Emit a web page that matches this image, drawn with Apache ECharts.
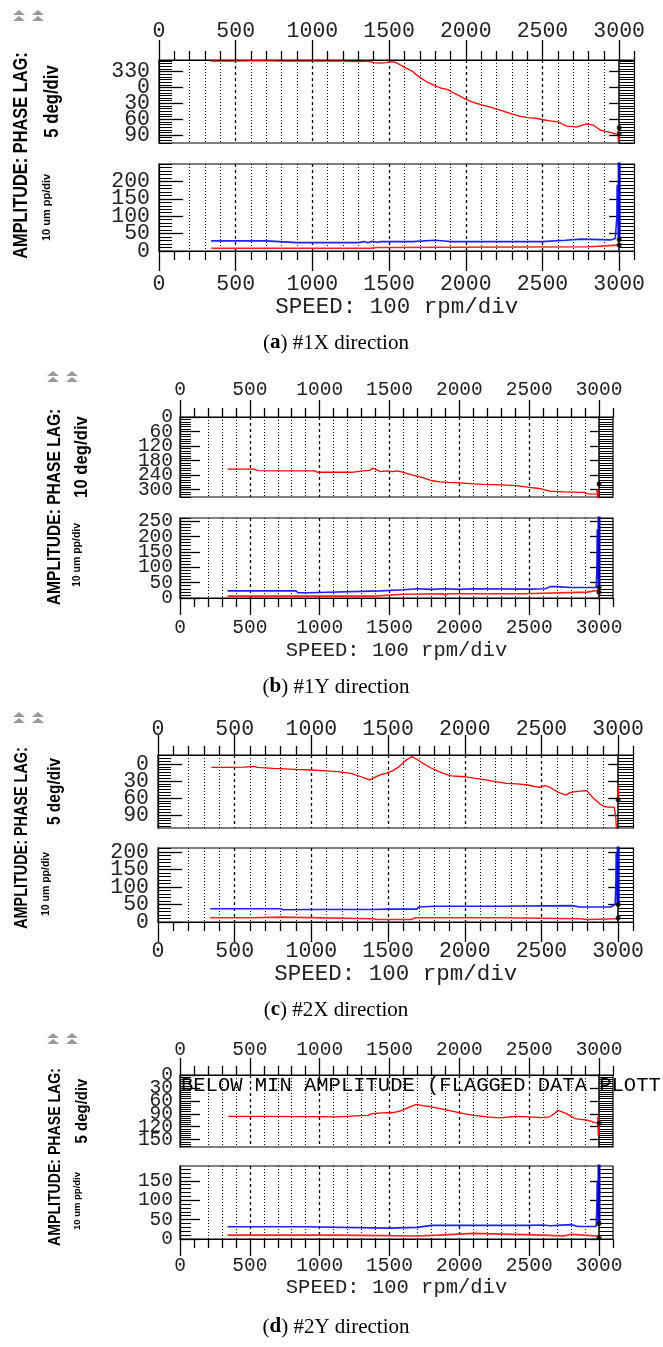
<!DOCTYPE html>
<html><head><meta charset="utf-8">
<script src="https://cdn.jsdelivr.net/npm/echarts@6/dist/echarts.min.js"></script>
<style>html,body{margin:0;padding:0;background:#fff}#c{width:663px;height:1347px}</style>
</head><body><div id="c"></div><script>
// ================= DATA =================
const speedLabels = [0, 500, 1000, 1500, 2000, 2500, 3000];
const speedMinorStep = 100;
const captions = ['a', 'b', 'c', 'd'];
const captionTexts = [' #1X direction', ' #1Y direction', ' #2X direction', ' #2Y direction'];
const phaseUnits = ['5 deg/div', '10 deg/div', '5 deg/div', '5 deg/div'];
const ampUnit = '10 um pp/div';
const speedName = 'SPEED: 100 rpm/div';
const flagText = 'BELOW MIN AMPLITUDE (FLAGGED DATA PLOTT';

// phase tick labels (negative values shown as +360)
const phaseLabelsA = [-30, 0, 30, 60, 90];
const phaseLabelsB = [0, 60, 120, 180, 240, 300];
const phaseLabelsC = [0, 30, 60, 90];
const phaseLabelsD = [0, 30, 60, 90, 120, 150];
const ampLabelsA = [0, 50, 100, 150, 200];
const ampLabelsB = [0, 50, 100, 150, 200, 250];
const ampLabelsC = [0, 50, 100, 150, 200];
const ampLabelsD = [0, 50, 100, 150];

// ---- (a) #1X ----
const phaseA = [[340,-50],[500,-50],[650,-51],[800,-50],[1000,-50],[1200,-50],[1300,-49],[1360,-50],[1400,-47],[1443,-46],[1480,-47],[1525,-49],[1560,-45],[1608,-37],[1650,-31],[1691,-21],[1750,-10],[1801,-3],[1840,1],[1884,4],[1918,10],[1960,16],[2005,23],[2050,28],[2103,33],[2150,36],[2201,41],[2250,45],[2298,50],[2350,54],[2407,57],[2450,58],[2504,61],[2550,63],[2602,65],[2630,69],[2657,73],[2700,74],[2722,75],[2760,71],[2787,69],[2830,71],[2874,80],[2910,83],[2939,85],[2983,88]];
const phaseSpikeA = [[2995,82],[2997,101]];
const phaseDotsA = [[3000,76],[3000,88]];
const blueA = [[340,29],[500,29],[698,29],[710,24],[900,24],[1100,24],[1300,24],[1340,27],[1360,24],[1390,28],[1420,25],[1450,27],[1650,27],[1660,31],[1800,31],[1810,27],[1880,28],[1900,27],[2500,27],[2510,31],[2650,31],[2660,34],[2750,34],[2760,31],[2950,32],[2975,36],[2985,100],[2987,190],[2990,185],[2993,90],[2996,40]];
const redA = [[340,8],[1380,8],[1390,12],[1420,10],[1490,10],[1500,12],[2800,12],[2810,17],[2995,17]];
const blueSpikeA = [[3000,33],[3000,300]];
const ampDotsA = [[3000,33],[3000,17]];

// ---- (b) #1Y ----
const phaseB = [[340,215],[528,215],[560,221],[700,222],[967,222],[982,228],[1100,228],[1224,228],[1315,222],[1360,220],[1378,211],[1400,216],[1436,225],[1480,222],[1520,225],[1557,222],[1618,232],[1680,242],[1739,250],[1800,262],[1860,268],[1920,270],[2000,272],[2102,276],[2180,278],[2253,279],[2330,281],[2405,283],[2500,290],[2586,296],[2647,306],[2750,309],[2889,311],[2919,317],[2979,318]];
const phaseSpikeB = [[2988,300],[2992,335]];
const phaseDotsB = [[3000,276]];
const blueB = [[340,23],[830,23],[845,17],[923,17],[930,23],[1436,23],[1450,27],[1600,27],[1610,29],[1700,30],[1800,28],[1900,30],[2000,28],[2100,30],[2500,29],[2617,30],[2625,35],[2650,37],[2700,37],[2800,34],[2980,34],[2985,105],[2987,223],[2990,200],[2993,60]];
const redB = [[340,6],[1390,6],[1400,12],[1600,12],[1610,14],[1880,14],[1900,10],[1920,14],[2460,14],[2470,19],[2915,19],[2920,25],[2995,25],[2998,10]];
const blueSpikeB = [[3000,35],[3000,300]];
const ampDotsB = [[3000,35],[3000,19]];

// ---- (c) #2X ----
const phaseC = [[348,6],[450,6],[560,5.5],[623,4],[650,6],[750,7.5],[898,9.4],[1000,10.5],[1100,12],[1173,13.5],[1256,16.5],[1320,22],[1379,28],[1410,24],[1448,19],[1490,16],[1530,12],[1570,5],[1613,-6],[1653,-13],[1690,-8],[1723,-2],[1780,7],[1833,13.5],[1875,18],[1915,21],[1998,22.4],[2060,25],[2136,28],[2200,31],[2273,34],[2340,35],[2411,37],[2460,40],[2493,41],[2520,38],[2548,40],[2580,45],[2603,49],[2630,52],[2659,55],[2690,50],[2714,49],[2750,48],[2796,47],[2837,60],[2851,63],[2880,70],[2907,75],[2940,76],[2975,76],[2985,95],[2989,118]];
const phaseSpikeC = [[3000,40],[3000,63]];
const phaseDotsC = [[3000,63]];
const blueC = [[340,38],[800,38],[815,35],[1000,36],[1400,36],[1500,37],[1690,37],[1700,43],[1800,45],[2200,45],[2210,47],[2700,47],[2750,43],[2950,43],[2980,50],[2985,110],[2987,200],[2990,150],[2995,50]];
const redC = [[340,12],[623,12],[630,14],[800,14],[810,9.5],[1400,9.5],[1420,7],[1650,7],[1680,12],[2250,12],[2260,9.5],[2750,9.5],[2760,7],[2800,7],[2810,9.5],[2995,9.5]];
const blueSpikeC = [[3000,50],[3000,300]];
const ampDotsC = [[3000,50],[3000,12]];

// ---- (d) #2Y ----
const phaseD = [[346,96],[600,96],[900,96.5],[1133,97],[1250,95],[1345,93.5],[1375,89.6],[1450,88],[1527,87],[1580,83],[1618,78],[1660,72],[1693,68],[1740,71],[1799,74],[1880,79],[1981,86],[2040,90],[2102,93.5],[2200,97],[2284,99.6],[2340,98],[2405,96],[2500,97],[2586,98.8],[2647,97],[2680,90],[2707,82],[2740,86],[2768,89.6],[2800,96],[2828,101],[2870,103],[2919,105],[2950,108],[2980,111]];
const phaseSpikeD = [[2995,97],[2998,140]];
const phaseDotsD = [[3000,112]];
const blueD = [[340,31.6],[891,31.6],[900,28],[1490,28],[1500,30],[1700,30],[1708,33],[1800,35],[2500,35],[2600,36],[2650,34],[2700,35],[2800,37],[2850,32],[2980,32],[2985,96],[2987,150],[2990,140],[2995,45]];
const redD = [[340,10],[1117,10],[1120,7.7],[1700,7.7],[1710,10],[1850,10],[1860,14.5],[2100,14.5],[2110,10],[2600,10],[2610,7.7],[2750,7.7],[2760,12],[2800,12],[2810,7.7],[2995,7.7]];
const blueSpikeD = [[3000,40],[3000,300]];
const ampDotsD = [[3000,40],[3000,4.4]];

// ================= LAYOUT / STYLE =================
const MONO = "'Liberation Mono','DejaVu Sans Mono','Courier New',monospace";
const SANS = "'Liberation Sans',Arial,sans-serif";
const SERIF = "'Liberation Serif','Times New Roman',serif";

const panels = [
  { phaseLabels: phaseLabelsA, phaseMin: -52, phaseMax: 105, phaseStep: 5, ampLabels: ampLabelsA, ampMax: 250, ampStep: 10,
    phase: phaseA, phaseSpike: phaseSpikeA, phaseDots: phaseDotsA, blue: blueA, red: redA, blueSpike: blueSpikeA, ampDots: ampDotsA,
    L: { left: 159, width: 475.5, pTop: 60, pH: 83, aTop: 164, aH: 87, font: 21.5, nameFont: 22.5, xMarginTop: 18, xMarginBot: 22, yMargin: 9, nameGap: 42,
         majorLen: 20, minorLen: 9, yMajorLen: 24, yMinorLen: 13, rMajorLen: 10,
         capY: 343, mainText: [21.7, 155.5, 19.5, 0.84], unitText: [53, 101.5, 19.5, 0.86], ampText: [47, 207.5, 11, 1], icons: [13, 10] } },
  { phaseLabels: phaseLabelsB, phaseMin: 0, phaseMax: 330, phaseStep: 10, ampLabels: ampLabelsB, ampMax: 260, ampStep: 10,
    phase: phaseB, phaseSpike: phaseSpikeB, phaseDots: phaseDotsB, blue: blueB, red: redB, blueSpike: blueSpikeB, ampDots: ampDotsB,
    L: { left: 180, width: 433, pTop: 417, pH: 80, aTop: 518, aH: 80, font: 19.5, nameFont: 20.5, xMarginTop: 17, xMarginBot: 20, yMargin: 7, nameGap: 42,
         majorLen: 17, minorLen: 9, yMajorLen: 20, yMinorLen: 11, rMajorLen: 9,
         capY: 687, mainText: [55, 507, 19, 0.82], unitText: [82, 457, 19, 0.88], ampText: [77.5, 555, 10.5, 1], icons: [47, 371] } },
  { phaseLabels: phaseLabelsC, phaseMin: -16, phaseMax: 113, phaseStep: 5, ampLabels: ampLabelsC, ampMax: 212, ampStep: 10,
    phase: phaseC, phaseSpike: phaseSpikeC, phaseDots: phaseDotsC, blue: blueC, red: redC, blueSpike: blueSpikeC, ampDots: ampDotsC,
    L: { left: 158, width: 475.5, pTop: 755, pH: 73, aTop: 848, aH: 74, font: 21.5, nameFont: 22.5, xMarginTop: 15, xMarginBot: 18, yMargin: 9, nameGap: 34,
         majorLen: 20, minorLen: 9, yMajorLen: 24, yMinorLen: 13, rMajorLen: 10,
         capY: 1010, mainText: [21.7, 838, 18, 0.8], unitText: [55, 791.5, 18, 0.86], ampText: [46, 884, 10.5, 1], icons: [13, 712] } },
  { phaseLabels: phaseLabelsD, phaseMin: 0, phaseMax: 167, phaseStep: 5, ampLabels: ampLabelsD, ampMax: 188, ampStep: 10,
    phase: phaseD, phaseSpike: phaseSpikeD, phaseDots: phaseDotsD, blue: blueD, red: redD, blueSpike: blueSpikeD, ampDots: ampDotsD,
    L: { left: 180, width: 433, pTop: 1075, pH: 72, aTop: 1166, aH: 73, font: 19.5, nameFont: 20.5, xMarginTop: 15, xMarginBot: 17, yMargin: 7, nameGap: 34,
         majorLen: 17, minorLen: 9, yMajorLen: 20, yMinorLen: 11, rMajorLen: 9,
         capY: 1327, mainText: [55, 1157, 17, 0.83], unitText: [82, 1111, 17, 0.88], ampText: [77.5, 1201, 9.5, 1], icons: [47, 1033] } }
];

function steps(min, max, step) {
  const out = [];
  for (let v = Math.ceil(min / step) * step; v <= max + 1e-9; v += step) out.push(v);
  return out;
}
const speedMinor = steps(0, 3100, speedMinorStep).filter(v => speedLabels.indexOf(v) < 0);
const speedDotted = steps(200, 2900, speedMinorStep).filter(v => v % 500 !== 0);
const speedDashed = [500, 1000, 1500, 2000, 2500];
const BLACK = '#000';

const grids = [], xAxis = [], yAxis = [], series = [], graphic = [];

function addGrid(p, isPhase) {
  const L = p.L;
  const gi = grids.length;
  const top = isPhase ? L.pTop : L.aTop, h = isPhase ? L.pH : L.aH;
  grids.push({ left: L.left, top: top, width: L.width, height: h, show: true, borderColor: BLACK, borderWidth: 1.2,
               backgroundColor: 'transparent', containLabel: false, outerBoundsMode: 'none' });
  const px100 = L.width / 31;
  const xb = { gridIndex: gi, type: 'value', min: 0, max: 3100, position: isPhase ? 'top' : 'bottom',
               splitLine: { show: false }, axisLabel: { show: false }, axisLine: { show: false, onZero: false } };
  const xMain = xAxis.length;
  xAxis.push(Object.assign({}, xb, {
    axisLine: { show: true, onZero: false, lineStyle: { color: BLACK, width: 1.2 } },
    axisTick: { show: true, customValues: speedLabels, length: L.majorLen, inside: false, lineStyle: { color: BLACK, width: 1.3 } },
    axisLabel: { show: true, customValues: speedLabels, fontFamily: MONO, fontSize: L.font, color: '#222',
                 margin: isPhase ? L.xMarginTop : L.xMarginBot,
                 interval: 0, showMinLabel: true, showMaxLabel: true, hideOverlap: false, formatter: v => String(v) },
    name: isPhase ? '' : speedName, nameLocation: 'middle', nameGap: L.nameGap,
    nameTextStyle: { fontFamily: MONO, fontSize: L.nameFont, color: '#222' }
  }));
  xAxis.push(Object.assign({}, xb, { axisTick: { show: true, customValues: speedMinor, length: L.minorLen, inside: false, lineStyle: { color: BLACK, width: 1.3 } } }));
  xAxis.push(Object.assign({}, xb, { axisTick: { show: true, customValues: speedDotted, length: 0, lineStyle: { color: 'rgba(0,0,0,0)' } },
    splitLine: { show: true, lineStyle: { type: [1, 2], color: BLACK, width: 1 } } }));
  xAxis.push(Object.assign({}, xb, { axisTick: { show: true, customValues: speedDashed, length: 0, lineStyle: { color: 'rgba(0,0,0,0)' } },
    splitLine: { show: true, lineStyle: { type: [3, 3], color: BLACK, width: 1.3 } } }));

  const labels = isPhase ? p.phaseLabels : p.ampLabels;
  const min = isPhase ? p.phaseMin : 0, max = isPhase ? p.phaseMax : p.ampMax;
  const dense = steps(min, max, isPhase ? p.phaseStep : p.ampStep);
  const yb = { gridIndex: gi, type: 'value', min: min, max: max, inverse: isPhase, splitLine: { show: false },
               axisLabel: { show: false }, axisLine: { show: false, onZero: false } };
  const yMain = yAxis.length;
  yAxis.push(Object.assign({}, yb, { position: 'left',
    axisLine: { show: true, onZero: false, lineStyle: { color: BLACK, width: 1.3 } },
    axisTick: { show: true, customValues: labels, inside: true, length: L.yMajorLen, lineStyle: { color: BLACK, width: 1.3 } } }));
  // one label axis per tick value, so no label is auto-hidden by overlap
  labels.forEach(v => {
    yAxis.push(Object.assign({}, yb, { position: 'left',
      axisTick: { show: false, customValues: [v] },
      axisLabel: { show: true, customValues: [v], fontFamily: MONO, fontSize: L.font, color: '#222', margin: L.yMargin,
                   padding: [4, 0, 0, 0], interval: 0, showMinLabel: true, showMaxLabel: true, hideOverlap: false,
                   formatter: val => String(val < 0 ? val + 360 : val) } }));
  });
  yAxis.push(Object.assign({}, yb, { position: 'left',
    axisTick: { show: true, customValues: dense, inside: true, length: L.yMinorLen, lineStyle: { color: BLACK, width: 1 } } }));
  yAxis.push(Object.assign({}, yb, { position: 'right', offset: -px100,
    axisLine: { show: true, onZero: false, lineStyle: { color: BLACK, width: 1.5 } },
    axisTick: { show: true, customValues: labels, inside: true, length: L.rMajorLen, lineStyle: { color: BLACK, width: 1.3 } } }));
  yAxis.push(Object.assign({}, yb, { position: 'right', offset: -px100,
    axisTick: { show: true, customValues: dense, inside: false, length: px100, lineStyle: { color: BLACK, width: 1 } } }));
  return { xi: xMain, yi: yMain };
}

function line(ax, data, color, width) {
  series.push({ type: 'line', xAxisIndex: ax.xi, yAxisIndex: ax.yi, data: data, showSymbol: false, symbol: 'none',
                lineStyle: { color: color, width: width }, itemStyle: { color: color }, clip: true, z: 5, silent: true });
}
function dots(ax, data) {
  series.push({ type: 'scatter', xAxisIndex: ax.xi, yAxisIndex: ax.yi, data: data, symbol: 'circle', symbolSize: 5,
                itemStyle: { color: '#000' }, z: 6, silent: true });
}
function vtext(spec, text, weight) {
  graphic.push({ type: 'text', x: spec[0], y: spec[1], rotation: Math.PI / 2, scaleX: spec[3], scaleY: 1,
    style: { text: text, fontFamily: SANS, fontWeight: weight, fontSize: spec[2], fill: '#000', align: 'center', verticalAlign: 'middle' } });
}

panels.forEach((p, i) => {
  const L = p.L;
  const pa = addGrid(p, true);
  line(pa, p.phase, '#ff0000', 1.3);
  line(pa, p.phaseSpike, '#ff0000', 2.2);
  dots(pa, p.phaseDots);
  const aa = addGrid(p, false);
  line(aa, p.red, '#ff2020', 1.6);
  line(aa, p.blue, '#1f1fff', 1.6);
  line(aa, p.blueSpike, '#0000c8', 3);
  dots(aa, p.ampDots);

  graphic.push({ type: 'text', x: 336, y: L.capY, style: { text: '{n|(}{b|' + captions[i] + '}{n|)' + captionTexts[i] + '}',
    align: 'center', verticalAlign: 'middle',
    rich: { n: { fontFamily: SERIF, fontSize: 21, fill: '#000' }, b: { fontFamily: SERIF, fontSize: 21, fontWeight: 'bold', fill: '#000' } } } });
  vtext(L.mainText, 'AMPLITUDE: PHASE LAG:', 'bold');
  vtext(L.unitText, phaseUnits[i], 'bold');
  vtext(L.ampText, ampUnit, 'bold');
  [0, 19].forEach(dx => {
    const x0 = L.icons[0] + dx, y0 = L.icons[1];
    graphic.push({ type: 'polygon', shape: { points: [[x0, y0 + 5], [x0 + 6, y0], [x0 + 12, y0 + 5]] }, style: { fill: '#9a9a9a' } });
    graphic.push({ type: 'polygon', shape: { points: [[x0, y0 + 11], [x0 + 6, y0 + 6], [x0 + 12, y0 + 11]] }, style: { fill: '#9a9a9a' } });
  });
});

graphic.push({ type: 'text', x: 181, y: 1086, z: 10,
  style: { text: flagText, fontFamily: MONO, fontSize: 20.5, fill: '#000', align: 'left', verticalAlign: 'middle' } });

const chart = echarts.init(document.getElementById('c'), null, { renderer: 'canvas', width: 663, height: 1347 });
chart.setOption({
  animation: false,
  backgroundColor: '#fff',
  grid: grids, xAxis: xAxis, yAxis: yAxis, series: series, graphic: graphic
});
</script></body></html>
